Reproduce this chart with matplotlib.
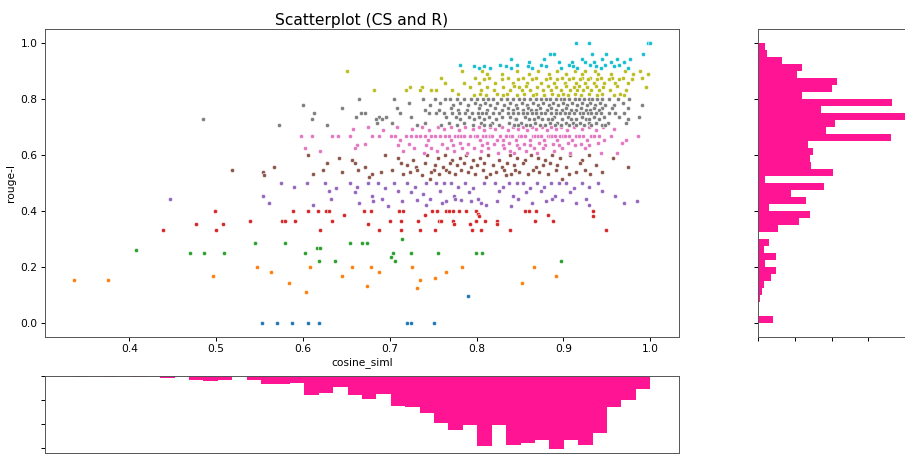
import numpy as np
import matplotlib.pyplot as plt

# rouge-l levels for each colour band, and the cosine_siml values read on each level

rl_blue = [0.0, 0.0952]
cs_blue = [[0.5524, 0.5705, 0.5874, 0.6061, 0.6188, 0.7195, 0.7248, 0.7509],
           [0.790]]

rl_orange = [0.1999, 0.1818, 0.1667, 0.16, 0.1538, 0.1429, 0.1333, 0.1249, 0.1111]
cs_orange = [[0.5467, 0.6076, 0.656, 0.6785, 0.7253, 0.7835, 0.8667],
             [0.563, 0.688, 0.7644],
             [0.4966, 0.6455, 0.8915],
             [0.7517],
             [0.336, 0.375, 0.7345],
             [0.5835, 0.8524],
             [0.6736],
             [0.7317],
             [0.604]]

rl_green = [0.2999, 0.2857, 0.2667, 0.2609, 0.2499, 0.2353, 0.2222]
cs_green = [[0.7145],
            [0.5444, 0.5797, 0.6547, 0.6685, 0.6743],
            [0.616, 0.6195],
            [0.4077],
            [0.4697, 0.4858, 0.5088, 0.6019, 0.7041, 0.7241, 0.7552, 0.7999, 0.8065],
            [0.7015],
            [0.618, 0.6368, 0.7061, 0.8977]]

rl_red = [0.3999, 0.3889, 0.3846, 0.381, 0.3636, 0.3529, 0.3333]
cs_red = [[0.4988, 0.588, 0.6061, 0.6168, 0.6264, 0.6302, 0.6701, 0.6785, 0.7107, 0.7156, 0.749,
           0.754, 0.7644, 0.7682, 0.7728, 0.7797, 0.7874, 0.7989, 0.8555, 0.8601, 0.8685, 0.9345],
          [0.8019],
          [0.6467, 0.7406, 0.882],
          [0.8027, 0.9337],
          [0.5387, 0.5759, 0.5793, 0.5908, 0.6329, 0.70, 0.713, 0.7325, 0.7567, 0.7593, 0.7728,
           0.7996, 0.81, 0.8237, 0.867, 0.888],
          [0.4762, 0.5084, 0.6747, 0.7736, 0.792, 0.8237],
          [0.4387, 0.4995, 0.62, 0.688, 0.713, 0.7345, 0.7517, 0.7943, 0.8053, 0.839, 0.949]]

rl_purple = [0.4999, 0.4848, 0.4815, 0.4706, 0.4667, 0.4615, 0.4545, 0.4444, 0.4375, 0.4348,
             0.4286, 0.4211, 0.4167]
cs_purple = [[0.575, 0.605, 0.625, 0.654, 0.675, 0.686, 0.705, 0.72, 0.742, 0.753, 0.762, 0.77,
              0.787, 0.808, 0.821, 0.837, 0.846, 0.853, 0.87, 0.886, 0.895, 0.903, 0.921, 0.94],
             [0.59, 0.662, 0.729, 0.779, 0.83, 0.878, 0.929],
             [0.638, 0.695, 0.796, 0.861, 0.912],
             [0.63, 0.71, 0.758, 0.826, 0.874, 0.945],
             [0.66, 0.725, 0.791, 0.857, 0.908],
             [0.738],
             [0.554, 0.679, 0.774, 0.842, 0.89, 0.96],
             [0.447, 0.632, 0.691, 0.746, 0.775, 0.8019, 0.848, 0.887, 0.926],
             [0.731, 0.782, 0.898],
             [0.681, 0.714, 0.765, 0.793, 0.824, 0.88, 0.985],
             [0.5605, 0.665, 0.7604, 0.8046, 0.864, 0.915, 0.97],
             [0.612, 0.7414, 0.811, 0.93],
             [0.6977, 0.84]]

rl_brown = [0.5999, 0.5882, 0.5833, 0.5714, 0.5625, 0.5556, 0.5455, 0.5385, 0.5333, 0.5294,
            0.5217, 0.5128]
cs_brown = [[0.6053, 0.694, 0.743, 0.764, 0.788, 0.813, 0.838, 0.863, 0.887, 0.908, 0.93],
            [0.641, 0.709, 0.756, 0.781, 0.804, 0.846, 0.871, 0.896, 0.957],
            [0.657, 0.727, 0.772, 0.796, 0.826, 0.856, 0.879, 0.922],
            [0.628, 0.66, 0.713, 0.74, 0.769, 0.785, 0.809, 0.835, 0.853, 0.885, 0.919],
            [0.72, 0.752, 0.777, 0.801, 0.819, 0.843, 0.876, 0.893, 0.938],
            [0.567, 0.671, 0.73, 0.761, 0.793, 0.829, 0.868, 0.903, 0.975],
            [0.518, 0.6225, 0.663, 0.703, 0.731, 0.751, 0.765, 0.782, 0.807, 0.832, 0.844, 0.865,
             0.891, 0.925],
            [0.5536, 0.645, 0.69, 0.723, 0.748, 0.768, 0.79, 0.822, 0.849, 0.872, 0.914, 0.944],
            [0.612, 0.68, 0.715, 0.757, 0.775, 0.798, 0.815, 0.84, 0.859, 0.882, 0.906, 0.931],
            [0.5556, 0.737, 0.834],
            [0.676, 0.811],
            [0.746, 0.898]]

rl_pink = [0.6999, 0.6923, 0.6875, 0.6667, 0.6552, 0.6429, 0.64, 0.6364, 0.6249, 0.6154, 0.6087]
cs_pink = [[0.675, 0.708, 0.737, 0.755, 0.77, 0.787, 0.803, 0.815, 0.829, 0.842, 0.853, 0.864,
            0.875, 0.886, 0.897, 0.912, 0.93, 0.946],
           [0.658, 0.726, 0.763, 0.796, 0.821, 0.848, 0.869, 0.891, 0.921, 0.958],
           [0.692, 0.745, 0.78, 0.809, 0.836, 0.858, 0.881, 0.904, 0.938],
           [0.5977, 0.6103, 0.633, 0.6406, 0.654, 0.679, 0.6877, 0.7015, 0.706, 0.719,
            0.724, 0.73, 0.735, 0.74, 0.748, 0.752, 0.758, 0.764, 0.768, 0.775,
            0.779, 0.782, 0.786, 0.792, 0.798, 0.801, 0.807, 0.811, 0.814, 0.816,
            0.818, 0.827, 0.834, 0.838, 0.841, 0.849, 0.851, 0.856, 0.865, 0.867,
            0.871, 0.874, 0.882, 0.884, 0.887, 0.89, 0.896, 0.899, 0.902, 0.906,
            0.915, 0.918, 0.923, 0.932, 0.935, 0.941, 0.955, 0.9858],
           [0.712, 0.744, 0.771, 0.804, 0.823, 0.831, 0.845, 0.861, 0.878, 0.893, 0.91, 0.927,
            0.947, 0.972],
           [0.781, 0.812, 0.837, 0.872, 0.905, 0.94, 0.968],
           [0.672, 0.722, 0.76, 0.79, 0.82, 0.855, 0.888, 0.92],
           [0.662, 0.71, 0.742, 0.773, 0.806, 0.83, 0.846, 0.862, 0.879, 0.895, 0.913, 0.929],
           [0.6027, 0.66, 0.728, 0.747, 0.766, 0.783, 0.797, 0.813, 0.832, 0.8485, 0.866, 0.877,
            0.898, 0.925],
           [0.62, 0.715, 0.754, 0.774, 0.805, 0.839, 0.857, 0.889],
           [0.739, 0.789, 0.825, 0.843, 0.87, 0.908, 0.943, 0.962]]

rl_gray = [0.7999, 0.7857, 0.7778, 0.7692, 0.7619, 0.7499, 0.7368, 0.7273, 0.7143, 0.7059]
cs_gray = [[0.664, 0.705, 0.738, 0.752, 0.764, 0.769, 0.777, 0.786, 0.794, 0.801, 0.807, 0.813,
            0.819, 0.828, 0.835, 0.842, 0.849, 0.855, 0.861, 0.868, 0.874, 0.88, 0.885, 0.891,
            0.897, 0.901, 0.907, 0.913, 0.918, 0.924, 0.929, 0.933, 0.939, 0.945, 0.953, 0.963,
            0.976],
           [0.722, 0.758, 0.781, 0.798, 0.810, 0.824, 0.838, 0.852, 0.865, 0.877, 0.888, 0.899,
            0.91, 0.921, 0.931, 0.942, 0.969],
           [0.5995, 0.746, 0.773, 0.790, 0.804, 0.816, 0.832, 0.845, 0.858, 0.871, 0.883, 0.894,
            0.904, 0.916, 0.927, 0.936, 0.948, 0.958, 0.99],
           [0.6455, 0.708, 0.771, 0.803, 0.821, 0.836, 0.847, 0.859, 0.873, 0.886, 0.903, 0.92,
            0.935, 0.945, 0.956, 0.975],
           [0.741, 0.757, 0.779, 0.789, 0.812, 0.829, 0.842, 0.853, 0.863, 0.869, 0.881, 0.892,
            0.898, 0.909, 0.915, 0.926, 0.931, 0.941],
           [0.613, 0.6667, 0.671, 0.712, 0.745, 0.753, 0.762, 0.772, 0.78, 0.787, 0.795, 0.802,
            0.806, 0.811, 0.819, 0.826, 0.836, 0.842, 0.848, 0.853, 0.858, 0.864, 0.869, 0.874,
            0.879, 0.886, 0.891, 0.896, 0.902, 0.906, 0.912, 0.919, 0.923, 0.928, 0.932, 0.937,
            0.943, 0.952, 0.96, 0.97],
           [0.661, 0.6877, 0.6954, 0.725, 0.765, 0.776, 0.791, 0.803, 0.814, 0.829, 0.839, 0.856,
            0.871, 0.889, 0.905, 0.921, 0.935, 0.947, 0.964, 0.987],
           [0.485, 0.610, 0.6839, 0.6915, 0.781, 0.797, 0.808, 0.822, 0.844, 0.845, 0.86, 0.866,
            0.875, 0.882, 0.887, 0.898, 0.909, 0.914, 0.926, 0.93, 0.941, 0.975],
           [0.685, 0.702, 0.741, 0.768, 0.785, 0.805, 0.818, 0.837, 0.851, 0.867, 0.884, 0.893,
            0.903, 0.911, 0.919, 0.929, 0.938, 0.951, 0.972],
           [0.5727, 0.6276, 0.731, 0.759, 0.778, 0.796, 0.809, 0.815, 0.826, 0.843, 0.848, 0.857,
            0.862, 0.873, 0.879, 0.89, 0.897, 0.907, 0.914, 0.924, 0.932, 0.944, 0.948]]

rl_olive = [0.8999, 0.8889, 0.8749, 0.8696, 0.8571, 0.8462, 0.8421, 0.8333, 0.8182, 0.8125]
cs_olive = [[0.651, 0.7835, 0.8065, 0.846, 0.8709, 0.8927, 0.9138, 0.9253, 0.9368, 0.9713, 0.9885],
            [0.812, 0.829, 0.8602, 0.8831, 0.903, 0.922, 0.94, 0.955, 0.98, 0.9973],
            [0.7586, 0.798, 0.814, 0.836, 0.853, 0.869, 0.885, 0.898, 0.911, 0.922, 0.931, 0.943,
             0.956, 0.969, 0.99],
            [0.808, 0.829, 0.848, 0.864, 0.880, 0.893, 0.906, 0.919, 0.928, 0.939, 0.952, 0.964,
             0.979],
            [0.764, 0.786, 0.803, 0.821, 0.842, 0.858, 0.874, 0.889, 0.902, 0.915, 0.925, 0.935,
             0.947, 0.960, 0.974],
            [0.843, 0.857, 0.882, 0.903, 0.918, 0.937, 0.962],
            [0.723, 0.7375, 0.792, 0.812, 0.831, 0.849, 0.87, 0.892, 0.912, 0.927, 0.946, 0.995],
            [0.682, 0.719, 0.7345, 0.748, 0.7536, 0.772, 0.805, 0.82, 0.838, 0.852, 0.862, 0.876,
             0.886, 0.897, 0.908, 0.916, 0.923, 0.932, 0.941, 0.954, 0.972],
            [0.779, 0.804, 0.823, 0.835, 0.855, 0.868, 0.887, 0.899, 0.913, 0.929, 0.944, 0.965],
            [0.797, 0.811, 0.83, 0.846, 0.865, 0.878, 0.894, 0.905, 0.92, 0.939, 0.958, 0.97]]

rl_cyan = [0.9999, 0.96, 0.9412, 0.9333, 0.9231, 0.9167, 0.9091]
cs_cyan = [[0.915, 0.929, 0.997, 1.0],
           [0.885, 0.889, 0.933, 0.949, 0.992],
           [0.84, 0.878, 0.921, 0.944, 0.962, 0.977],
           [0.86, 0.895, 0.91, 0.925, 0.935, 0.955, 0.97],
           [0.781, 0.827, 0.847, 0.874, 0.906, 0.931, 0.948, 0.964],
           [0.797, 0.808, 0.834, 0.859, 0.880, 0.911, 0.938, 0.958],
           [0.803, 0.816, 0.840, 0.864, 0.897, 0.916, 0.943, 0.975]]

bands = [(rl_blue, cs_blue), (rl_orange, cs_orange), (rl_green, cs_green), (rl_red, cs_red),
         (rl_purple, cs_purple), (rl_brown, cs_brown), (rl_pink, cs_pink), (rl_gray, cs_gray),
         (rl_olive, cs_olive), (rl_cyan, cs_cyan)]

fig = plt.figure(figsize=(9.05, 4.54), dpi=100)
ax1 = fig.add_axes([0.0497, 0.2577, 0.7006, 0.6784])
ax_y = fig.add_axes([0.8376, 0.2577, 0.1751, 0.6784], sharey=ax1)
ax_x = fig.add_axes([0.0497, 0.0022, 0.7006, 0.1696], sharex=ax1)

palette = plt.get_cmap('tab10').colors
all_x = []
all_y = []
for k, (levels, rows) in enumerate(bands):
    xs = np.concatenate([np.array(r) for r in rows])
    ys = np.concatenate([np.full(len(r), lv) for lv, r in zip(levels, rows)])
    ax1.scatter(xs, ys, s=9, color=palette[k], edgecolor='white', linewidth=0.4)
    all_x.append(xs)
    all_y.append(ys)
all_x = np.concatenate(all_x)
all_y = np.concatenate(all_y)

ax1.set_title("Scatterplot (CS and R)", fontsize=11.2, pad=3)
ax1.set_xlabel("cosine_siml", fontsize=7.7, labelpad=2)
ax1.set_ylabel("rouge-l", fontsize=7.7, labelpad=3)
ax1.set_xticks([0.4, 0.5, 0.6, 0.7, 0.8, 0.9, 1.0])

ax_y.hist(all_y, 40, histtype='stepfilled', orientation='horizontal', color='deeppink')
ax_y.set_xticks([0, 20, 40, 60, 80])
ax_y.tick_params(labelleft=False, labelbottom=False)

ax_x.hist(all_x, 40, histtype='stepfilled', orientation='vertical', color='deeppink')
ax_x.set_yticks([0, 20, 40, 60])
ax_x.invert_yaxis()
ax_x.tick_params(labelleft=False, labelbottom=False)

for a in (ax1, ax_y, ax_x):
    a.tick_params(labelsize=7.7, length=2.8, pad=2.5, width=0.7)
    for sp in a.spines.values():
        sp.set_linewidth(0.7)
        sp.set_color('#555555')

plt.savefig("out.png")
